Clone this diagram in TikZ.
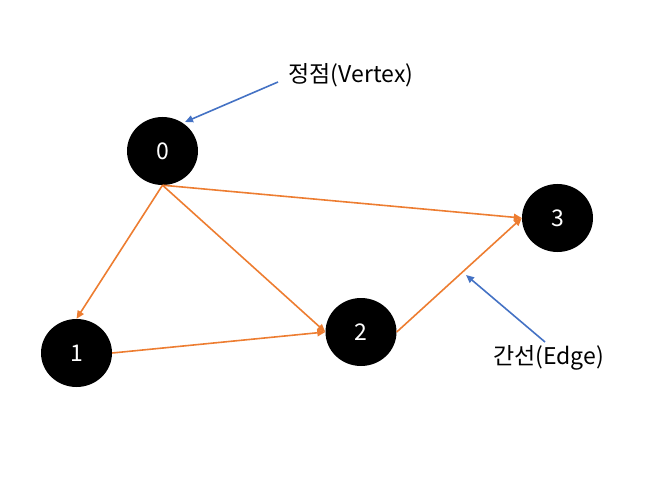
\documentclass[tikz,border=0pt]{standalone}
\usepackage{fontspec}
\setmainfont{Noto Sans CJK KR}
\usetikzlibrary{shapes.geometric,arrows.meta}
\definecolor{edgeorange}{HTML}{ED7D31}
\definecolor{callblue}{HTML}{4472C4}
\begin{document}
\begin{tikzpicture}[x=1bp,y=-1bp,
  vertex/.style={ellipse,fill=black,draw=none,minimum width=71bp,minimum height=68bp,inner sep=0pt,text=white,font=\fontsize{23bp}{26bp}\selectfont},
  edgearrow/.style={draw=edgeorange,line width=1.6bp,-{Triangle[length=8bp,width=7bp]}},
  callout/.style={draw=callblue,line width=1.6bp,-{Triangle[length=8bp,width=7bp]}},
  lbl/.style={font=\fontsize{23bp}{26bp}\selectfont,inner sep=0pt}]
\useasboundingbox (0,0) rectangle (664,482);
\node[vertex] (n0) at (162.5,151) {0};
\node[vertex] (n1) at (76.5,353) {1};
\node[vertex] (n2) at (361,332) {2};
\node[vertex] (n3) at (557.5,218) {3};
\node[lbl] (lv) at (351,75) {정점(Vertex)};
\node[lbl] (le) at (548.5,358) {간선(Edge)};
\coordinate (cv1) at (278,82);
\coordinate (cv2) at (185,122);
\coordinate (ce1) at (545,342);
\coordinate (ce2) at (466,275);
\draw[edgearrow] (n0.south) -- (n1.north);
\draw[edgearrow] (n0.south) -- (n2.west);
\draw[edgearrow] (n0.south) -- (n3.west);
\draw[edgearrow] (n1.east) -- (n2.west);
\draw[edgearrow] (n2.east) -- (n3.west);
\draw[callout] (cv1) -- (cv2);
\draw[callout] (ce1) -- (ce2);
\end{tikzpicture}
\end{document}
